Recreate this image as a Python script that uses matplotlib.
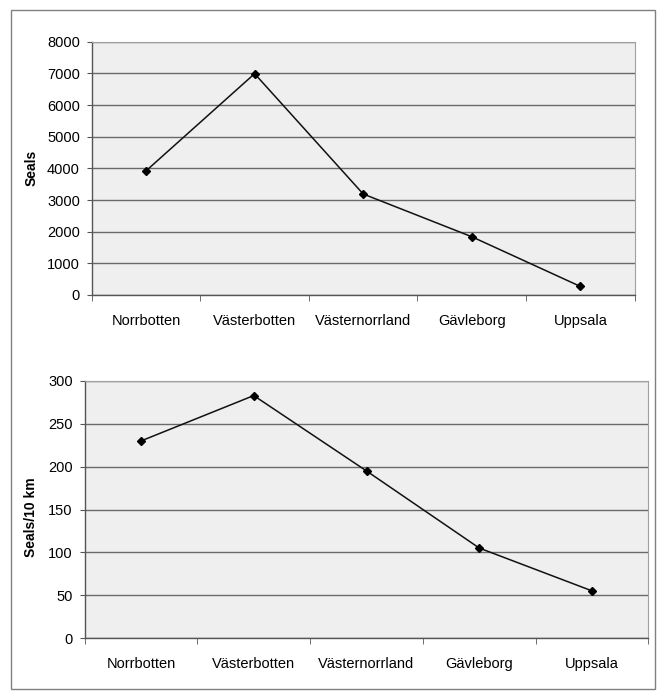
import matplotlib
matplotlib.use("Agg")
import matplotlib.pyplot as plt
from matplotlib.patches import Rectangle

plt.rcParams['font.family'] = ['Liberation Sans', 'DejaVu Sans']

counties = ["Norrbotten", "Västerbotten", "Västernorrland", "Gävleborg", "Uppsala"]
seals = [3920, 6990, 3190, 1840, 270]
seals_per_10km = [230, 283, 195, 105, 55]

W, H = 663, 692
fig = plt.figure(figsize=(W / 100, H / 100), dpi=100)
fig.patch.set_facecolor("white")


def box(x0, y0, x1, y1):
    # pixel box (top-left origin) -> figure fraction rect
    return [x0 / W, 1 - y1 / H, (x1 - x0) / W, (y1 - y0) / H]


def draw_panel(ax, values, ymax, step, ylabel, label_x, label_y):
    x = list(range(len(counties)))
    ax.set_facecolor("#f0efef")
    ax.set_xlim(-0.5, len(counties) - 0.5)
    ax.set_ylim(0, ymax)
    ax.set_yticks(range(0, ymax + 1, step))
    ax.yaxis.grid(True, color="#6a6a6a", linewidth=1.0)
    ax.set_axisbelow(True)
    ax.plot(x, values, color="#111111", linewidth=1.1, marker="D",
            markersize=4.5, markerfacecolor="black", markeredgecolor="black",
            zorder=3)

    # category labels at centres, tick marks between categories
    ax.set_xticks(x)
    ax.set_xticklabels(counties, fontsize=10.5)
    ax.tick_params(axis="x", which="major", length=0, pad=14)
    ax.set_xticks([i - 0.5 for i in range(len(counties) + 1)], minor=True)
    ax.tick_params(axis="x", which="minor", length=4, color="#555555",
                   direction="out")
    ax.tick_params(axis="y", length=3.5, color="#555555", pad=5,
                   labelsize=10.5, direction="out")

    for side in ("top", "right"):
        ax.spines[side].set_color("#a0a0a0")
        ax.spines[side].set_linewidth(0.8)
    for side in ("left", "bottom"):
        ax.spines[side].set_color("#555555")
        ax.spines[side].set_linewidth(1.0)

    ax.set_ylabel(ylabel, fontsize=10, fontweight="bold")
    ax.yaxis.set_label_coords(label_x, label_y)


ax1 = fig.add_axes(box(91.7, 41.7, 634.7, 295))
draw_panel(ax1, seals, 8000, 1000, "Seals", -0.098, 0.5)

ax2 = fig.add_axes(box(84.6, 381, 648.4, 638))
draw_panel(ax2, seals_per_10km, 300, 50, "Seals/10 km", -0.082, 0.47)

# outer frame around both charts
fig.patches.append(Rectangle((11 / W, 1 - 689 / H), 644 / W, 679 / H,
                             transform=fig.transFigure, fill=False,
                             edgecolor="#808080", linewidth=1.0))

fig.savefig("out.png", dpi=100)
